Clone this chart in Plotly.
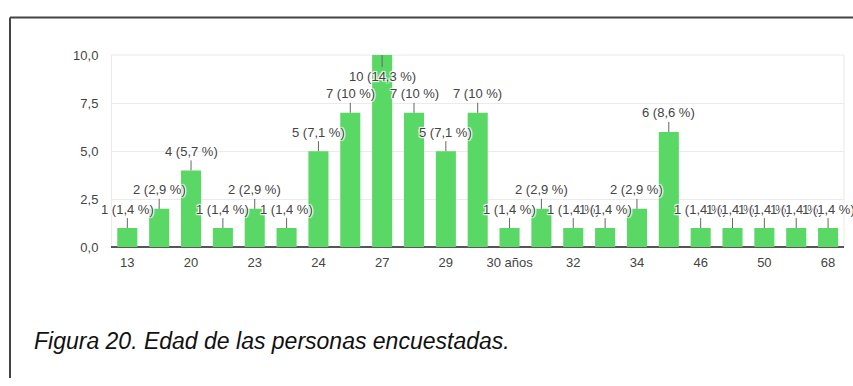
import plotly.graph_objects as go

# Survey responses per age group (70 answers in total)
counts = [1, 2, 4, 1, 2, 1, 5, 7, 10, 7, 5, 7, 1, 2, 1, 1, 2, 6, 1, 1, 1, 1, 1]
# Only every second category carries a visible axis label
tick_labels = ["13", "20", "23", "24", "27", "29", "30 años", "32", "34", "46", "50", "68"]
caption = "Figura 20. Edad de las personas encuestadas."

W, H = 853, 386
PLOT_L, PLOT_R, PLOT_T, PLOT_B = 111.4, 844, 50, 250
Y_MAX = 10

total = sum(counts)
positions = list(range(len(counts)))


def fmt_label(v):
    pct = round(100 * v / total, 1)
    pct_txt = (f"{pct:.0f}" if pct == int(pct) else f"{pct:.1f}").replace(".", ",")
    return f"{v} ({pct_txt} %)"


BAR_GREEN = "#59d866"
TXT = "#444444"
FONT = "Liberation Sans, Arial, sans-serif"
HALO = "1px 1px 1px #fff, -1px -1px 1px #fff, 1px -1px 1px #fff, -1px 1px 1px #fff, 0 0 2px #fff"

fig = go.Figure()
fig.add_trace(go.Bar(
    x=positions,
    y=counts,
    marker=dict(color=BAR_GREEN, line=dict(width=0)),
    hoverinfo="skip",
))

annotations = []
for xi, v in zip(positions, counts):
    below = v >= Y_MAX
    annotations.append(dict(
        x=xi, y=v, xref="x", yref="y",
        text=fmt_label(v),
        showarrow=True, arrowhead=0, arrowwidth=1, arrowcolor="#666666",
        standoff=0, ax=0, ay=21 if below else -19,
        font=dict(family=FONT, size=13, color=TXT, shadow=HALO),
    ))

annotations.append(dict(
    x=32 / W, y=1 - 347 / H, xref="paper", yref="paper",
    xanchor="left", yanchor="middle", showarrow=False,
    text=caption,
    font=dict(family=FONT, size=23, color="#111111", style="italic"),
))

shapes = [
    # light frame around the plotting area
    dict(type="rect", xref="paper", yref="paper",
         x0=PLOT_L / W, x1=PLOT_R / W, y0=1 - PLOT_B / H, y1=1 - PLOT_T / H,
         line=dict(color="#e9e9e9", width=1), layer="below"),
    # outer figure frame: top and left edges
    dict(type="line", xref="paper", yref="paper",
         x0=10 / W, x1=1, y0=1 - 11 / H, y1=1 - 11 / H,
         line=dict(color="#444444", width=2)),
    dict(type="line", xref="paper", yref="paper",
         x0=10 / W, x1=10 / W, y0=0, y1=1 - 11 / H,
         line=dict(color="#444444", width=2)),
]

fig.update_layout(
    width=W, height=H,
    margin=dict(l=0, r=0, t=0, b=0),
    paper_bgcolor="white", plot_bgcolor="white",
    separators=",.",
    bargap=0.37,
    showlegend=False,
    font=dict(family=FONT, size=13, color=TXT),
    annotations=annotations,
    shapes=shapes,
    xaxis=dict(
        domain=[PLOT_L / W, PLOT_R / W],
        range=[-0.5, len(counts) - 0.5],
        tickvals=positions[::2], ticktext=tick_labels,
        showgrid=False, zeroline=False,
        showline=False, ticks="",
        ticklabelstandoff=6,
        tickfont=dict(family=FONT, size=13, color=TXT),
    ),
    yaxis=dict(
        domain=[1 - PLOT_B / H, 1 - PLOT_T / H],
        range=[0, Y_MAX],
        tick0=0, dtick=2.5, tickformat=".1f",
        showgrid=True, gridcolor="#ebebeb", gridwidth=1,
        zeroline=True, zerolinecolor="#555555", zerolinewidth=1.5,
        ticks="", ticklabelstandoff=12,
        tickfont=dict(family=FONT, size=13, color=TXT),
    ),
)

fig.write_html("out.html")
